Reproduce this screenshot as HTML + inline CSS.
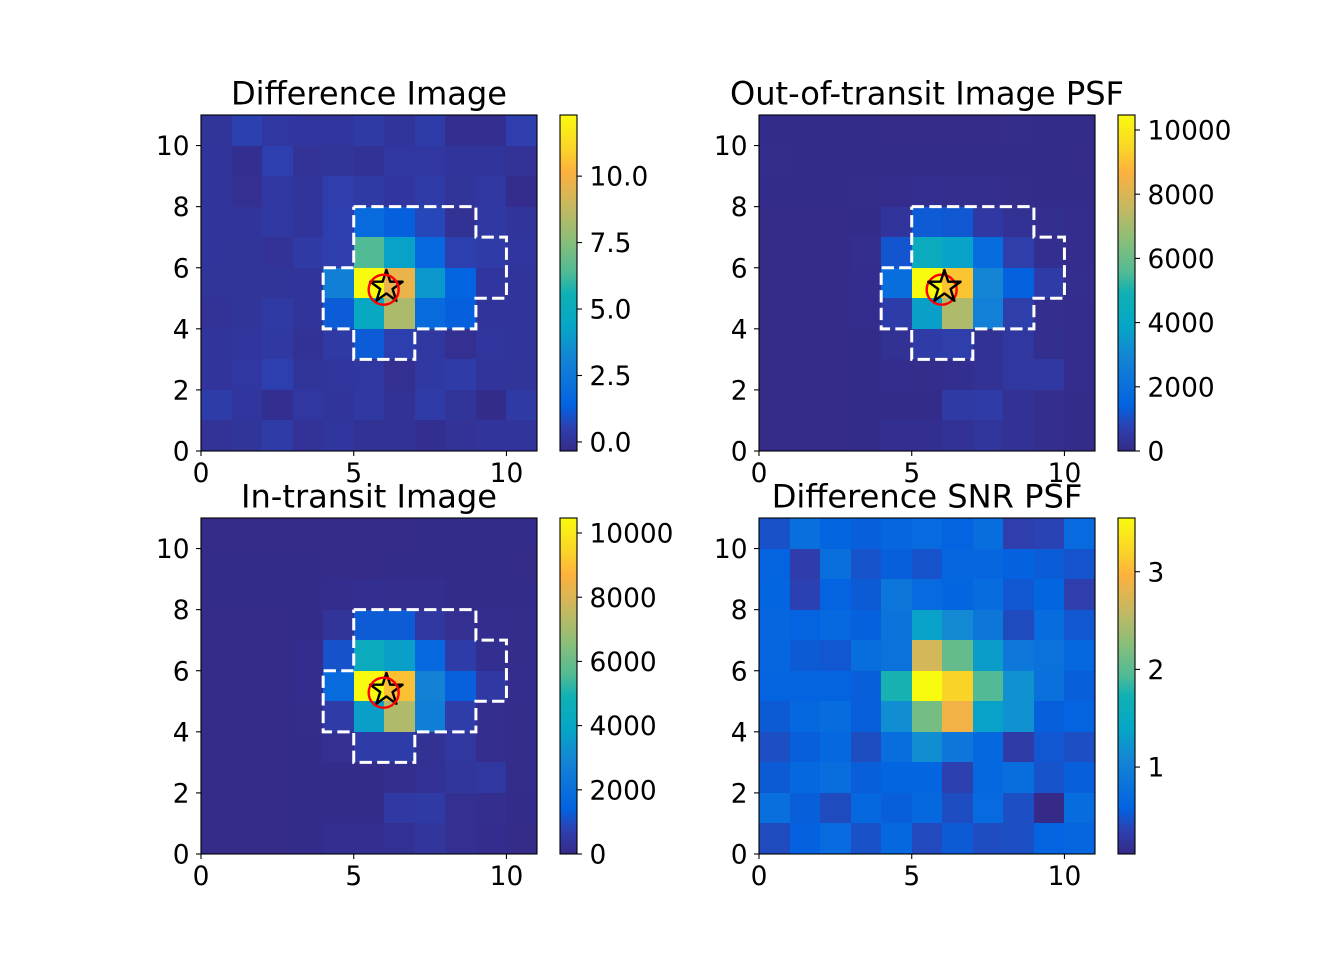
<!DOCTYPE html>
<html>
<head>
<meta charset="utf-8">
<title>Difference image diagnostic panels</title>
<style>
html,body{margin:0;padding:0;background:#fff;width:1320px;height:960px;overflow:hidden}
svg{display:block}
text{font-family:"DejaVu Sans","Liberation Sans",sans-serif;fill:#000}
</style>
</head>
<body>
<svg id="fig" xmlns="http://www.w3.org/2000/svg" width="1320" height="960" viewBox="0 0 1320 960">
<rect width="1320" height="960" fill="#fff"/>
</svg>
<script>
// Pixel values, listed from the top image row (y 10-11) to the bottom row (y 0-1)
const differenceValues = [
[0.05,0.55,0.2,0.15,0.15,0.3,0.1,0.4,-0.15,-0.15,0.45],
[0.1,-0.15,0.5,0.0,0.05,-0.05,0.2,0.2,0.1,0.1,0.0],
[0.1,-0.1,0.2,0.1,0.45,0.3,0.15,0.35,0.05,0.2,-0.2],
[0.1,0.1,0.25,0.1,0.5,1.8,1.3,0.7,-0.05,0.25,0.1],
[0.1,0.05,0.0,0.3,0.45,6.4,4.2,1.7,0.5,0.35,0.15],
[0.05,0.05,0.05,0.1,2.9,12.3,9.7,3.85,1.4,0.15,0.1],
[0.0,0.05,0.3,0.1,1.2,4.6,8.3,1.8,1.3,0.1,0.1],
[0.1,0.15,0.25,-0.05,0.3,1.2,0.5,0.2,-0.1,0.15,0.1],
[0.1,0.2,0.5,0.05,0.15,0.2,-0.1,0.25,0.35,0.1,0.05],
[0.4,0.15,-0.15,0.2,0.1,0.25,-0.05,0.35,0.05,-0.25,0.3],
[0,0.05,0.35,0.0,0.15,-0.05,-0.05,-0.15,0.0,0.1,0.1]
];
const outTransitValues = [
[50,50,50,50,40,40,30,30,90,60,60],
[90,60,60,60,50,50,50,50,50,50,30],
[50,50,50,90,110,180,130,130,90,70,50],
[40,40,40,70,350,1250,1200,500,250,150,100],
[40,40,40,130,1150,4400,3800,1800,650,180,100],
[40,40,40,100,1900,10467,9100,2900,1400,550,120],
[40,40,40,100,600,3700,7200,2700,650,130,100],
[40,40,40,50,250,550,650,250,450,150,100],
[40,40,40,50,100,90,170,250,430,460,110],
[40,40,40,50,70,80,520,560,220,130,70],
[40,40,40,50,180,180,230,400,220,130,50]
];
const inTransitValues = [
[40,40,40,40,40,30,30,50,70,70,70],
[70,50,50,50,40,40,50,50,50,50,30],
[50,50,50,80,100,170,120,120,80,60,50],
[40,40,40,70,320,1250,1250,450,200,110,90],
[40,40,40,110,1100,4400,3700,1700,600,170,90],
[40,40,40,100,1750,10467,9000,2800,1350,500,110],
[40,40,40,90,550,3700,7200,2600,620,120,90],
[40,40,40,50,200,550,600,230,420,130,90],
[40,40,40,50,80,70,150,220,400,430,90],
[40,40,40,50,70,70,500,540,200,120,60],
[40,40,40,50,170,170,210,370,200,110,40]
];
const snrValues = [
[0.46,0.75,0.6,0.55,0.62,0.68,0.58,0.72,0.33,0.37,0.68],
[0.58,0.32,0.75,0.47,0.55,0.47,0.62,0.62,0.57,0.53,0.48],
[0.6,0.36,0.58,0.52,0.85,0.68,0.6,0.7,0.5,0.6,0.33],
[0.62,0.58,0.66,0.56,0.82,1.35,1.1,0.87,0.42,0.7,0.5],
[0.62,0.52,0.5,0.72,0.8,2.7,2.05,1.3,0.88,0.8,0.65],
[0.58,0.58,0.58,0.54,1.75,3.55,3.2,1.95,1.2,0.78,0.54],
[0.52,0.65,0.7,0.55,1.15,2.15,2.9,1.35,1.2,0.55,0.58],
[0.44,0.55,0.65,0.43,0.72,1.15,0.85,0.65,0.3,0.5,0.44],
[0.52,0.65,0.73,0.54,0.6,0.6,0.35,0.65,0.72,0.47,0.55],
[0.75,0.54,0.42,0.65,0.54,0.65,0.43,0.68,0.44,0.11,0.7],
[0.42,0.57,0.68,0.46,0.65,0.41,0.52,0.43,0.44,0.58,0.62]
];
// Colour ranges
const differenceRange = [-0.34, 12.3];
const outTransitRange = [0, 10467];
const inTransitRange = [0, 10467];
const snrRange = [0.11, 3.55];
// Tick labels
const xTickValues = [0, 5, 10];
const yTickValues = [0, 2, 4, 6, 8, 10];
const differenceCbarTicks = [0, 2.5, 5, 7.5, 10];
const differenceCbarLabels = ["0.0", "2.5", "5.0", "7.5", "10.0"];
const fluxCbarTicks = [0, 2000, 4000, 6000, 8000, 10000];
const fluxCbarLabels = ["0", "2000", "4000", "6000", "8000", "10000"];
const snrCbarTicks = [1, 2, 3];
const snrCbarLabels = ["1", "2", "3"];
// Overlay data in pixel-grid coordinates
const apertureXs = [5, 9, 9, 10, 10, 9, 9, 7, 7, 5, 5, 4, 4, 5, 5];
const apertureYs = [8, 8, 7, 7, 5, 5, 4, 4, 3, 3, 4, 4, 6, 6, 8];
const catalogPosition = [5.98, 5.28];
const centroidPosition = [6.07, 5.37];
// Colormap
const cmapPositions = [0, 0.07, 0.135, 0.28, 0.375, 0.47, 0.53, 0.63, 0.72, 0.83, 0.9, 1];
const cmapColors = ["#352a87", "#2d40b0", "#0363e1", "#1485d4", "#06a7c6", "#10b0b4", "#4fbb96", "#8cbe78", "#c2b962", "#fdb13f", "#fad428", "#f9fb0e"];

const SVGNS = "http://www.w3.org/2000/svg";
const fig = document.getElementById("fig");
const AXIS_MAX = 11;
const AXIS_SIZE = 336;
const CBAR_GAP = 23;
const CBAR_WIDTH = 17;
const TICK = 5;
const FONT_TICK = 26.4;
const FONT_TITLE = 32.1;

function svgEl(tag, attrs, parent) {
  const el = document.createElementNS(SVGNS, tag);
  for (const k in attrs) el.setAttribute(k, attrs[k]);
  (parent || fig).appendChild(el);
  return el;
}
function hexRgb(h) {
  return [parseInt(h.slice(1,3),16), parseInt(h.slice(3,5),16), parseInt(h.slice(5,7),16)];
}
function cmap(t) {
  t = Math.max(0, Math.min(1, t));
  for (let i = 1; i < cmapPositions.length; i++) {
    if (t <= cmapPositions[i]) {
      const f = (t - cmapPositions[i-1]) / (cmapPositions[i] - cmapPositions[i-1]);
      const a = hexRgb(cmapColors[i-1]);
      const b = hexRgb(cmapColors[i]);
      return "rgb(" + a.map((v, j) => Math.round(v + (b[j] - v) * f)).join(",") + ")";
    }
  }
  return cmapColors[cmapColors.length - 1];
}
function starPoints(cx, cy, R) {
  const r = R * 0.382;
  const pts = [];
  for (let i = 0; i < 10; i++) {
    const rad = i % 2 ? r : R;
    const a = -Math.PI / 2 + i * Math.PI / 5;
    pts.push((cx + rad * Math.cos(a)).toFixed(2) + "," + (cy + rad * Math.sin(a)).toFixed(2));
  }
  return pts.join(" ");
}

function drawPanel(cfg) {
  const g = svgEl("g", {});
  
  
  const sx = v => cfg.left + v / AXIS_MAX * AXIS_SIZE;
  const sy = v => cfg.top + AXIS_SIZE - v / AXIS_MAX * AXIS_SIZE;
  const norm = v => (v - cfg.range[0]) / (cfg.range[1] - cfg.range[0]);
  const cellsGroup = svgEl("g", {"shape-rendering": "crispEdges"}, g);
  
  
  cfg.values.forEach((row, r) => {
    const yVal = AXIS_MAX - 1 - r;
    row.forEach((val, c) => {
      const x0 = Math.round(sx(c));
      const x1 = Math.round(sx(c + 1));
      const y0 = Math.round(sy(yVal + 1));
      const y1 = Math.round(sy(yVal));
      const cell = svgEl("rect", {x: x0, y: y0, width: x1 - x0, height: y1 - y0, fill: cmap(norm(val))}, cellsGroup);
      
      
    });
  });

  if (cfg.overlays) {
    const apertureD = apertureXs.map((x, i) => (i ? "L" : "M") + sx(x).toFixed(2) + " " + sy(apertureYs[i]).toFixed(2)).join(" ");
    const aperture = svgEl("path", {d: apertureD, fill: "none", stroke: "#fff", "stroke-width": 3, "stroke-dasharray": "12.3 5.3"}, g);
    
    

    const drawCircle = () => {
      const c = svgEl("circle", {cx: sx(catalogPosition[0]), cy: sy(catalogPosition[1]), r: 15, fill: "none", stroke: "#f00", "stroke-width": 2.4}, g);
      
      
    };
    const drawStar = () => {
      const s = svgEl("polygon", {points: starPoints(sx(centroidPosition[0]), sy(centroidPosition[1]), 17), fill: "none", stroke: "#000", "stroke-width": 2.4, "stroke-linejoin": "round"}, g);
      
      
    };
    if (cfg.starOnTop) { drawCircle(); drawStar(); } else { drawStar(); drawCircle(); }
  }

  const frame = svgEl("rect", {x: cfg.left, y: cfg.top, width: AXIS_SIZE, height: AXIS_SIZE, fill: "none", stroke: "#000", "stroke-width": 1.1}, g);
  
  

  xTickValues.forEach(v => {
    const tick = svgEl("line", {x1: sx(v), x2: sx(v), y1: cfg.top + AXIS_SIZE, y2: cfg.top + AXIS_SIZE + TICK, stroke: "#000", "stroke-width": 1.1}, g);
    
    
    const label = svgEl("text", {x: sx(v), y: cfg.top + AXIS_SIZE + 31, "text-anchor": "middle", "font-size": FONT_TICK}, g);
    label.textContent = String(v);
    
    
  });
  yTickValues.forEach(v => {
    const tick = svgEl("line", {x1: cfg.left - TICK, x2: cfg.left, y1: sy(v), y2: sy(v), stroke: "#000", "stroke-width": 1.1}, g);
    
    
    const label = svgEl("text", {x: cfg.left - 11.5, y: sy(v) + 9.6, "text-anchor": "end", "font-size": FONT_TICK}, g);
    label.textContent = String(v);
    
    
  });

  const title = svgEl("text", {x: cfg.left + AXIS_SIZE / 2, y: cfg.top - 10.5, "text-anchor": "middle", "font-size": FONT_TITLE}, g);
  title.textContent = cfg.title;
  
  

  // Colorbar
  const cbLeft = cfg.left + AXIS_SIZE + CBAR_GAP;
  const gradId = cfg.name + "-gradient";
  const defs = svgEl("defs", {}, g);
  const grad = svgEl("linearGradient", {id: gradId, x1: 0, y1: 1, x2: 0, y2: 0}, defs);
  cmapPositions.forEach((p, i) => svgEl("stop", {offset: p, "stop-color": cmapColors[i]}, grad));
  const bar = svgEl("rect", {x: cbLeft, y: cfg.top, width: CBAR_WIDTH, height: AXIS_SIZE, fill: "url(#" + gradId + ")", stroke: "#000", "stroke-width": 1.1}, g);
  
  
  const cy = v => cfg.top + AXIS_SIZE - norm(v) * AXIS_SIZE;
  cfg.cbarTicks.forEach((v, i) => {
    const tick = svgEl("line", {x1: cbLeft + CBAR_WIDTH, x2: cbLeft + CBAR_WIDTH + TICK, y1: cy(v), y2: cy(v), stroke: "#000", "stroke-width": 1.1}, g);
    
    
    const label = svgEl("text", {x: cbLeft + CBAR_WIDTH + 12.5, y: cy(v) + 9.6, "font-size": FONT_TICK}, g);
    label.textContent = cfg.cbarLabels[i];
    
    
  });
}

drawPanel({name: "difference-image", title: "Difference Image", left: 201, top: 115, values: differenceValues, range: differenceRange, cbarTicks: differenceCbarTicks, cbarLabels: differenceCbarLabels, starOnTop: false, overlays: true});
drawPanel({name: "out-of-transit", title: "Out-of-transit Image PSF", left: 759, top: 115, values: outTransitValues, range: outTransitRange, cbarTicks: fluxCbarTicks, cbarLabels: fluxCbarLabels, starOnTop: true, overlays: true});
drawPanel({name: "in-transit", title: "In-transit Image", left: 201, top: 518, values: inTransitValues, range: inTransitRange, cbarTicks: fluxCbarTicks, cbarLabels: fluxCbarLabels, starOnTop: false, overlays: true});
drawPanel({name: "difference-snr", title: "Difference SNR PSF", left: 759, top: 518, values: snrValues, range: snrRange, cbarTicks: snrCbarTicks, cbarLabels: snrCbarLabels, starOnTop: true, overlays: false});
</script>
</body>
</html>
